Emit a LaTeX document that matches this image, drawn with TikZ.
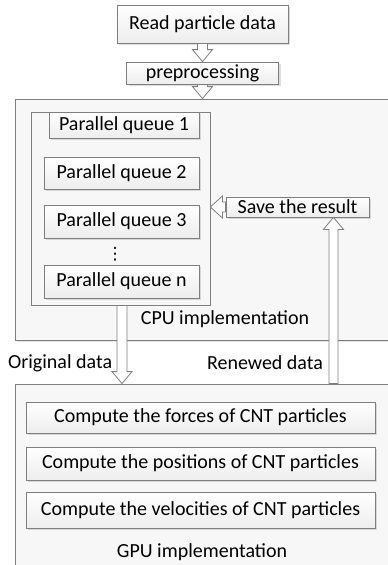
\documentclass[tikz,border=0pt]{standalone}
\usepackage{fontspec}
\setmainfont{Carlito}
\newfontfamily\symfont{DejaVu Sans}
\usetikzlibrary{calc,shadows}
\definecolor{bordergray}{HTML}{7F7F7F}
\definecolor{panelfill}{HTML}{F7F7F7}
\newcommand\hollowarrow[4]{% from, to, shaft half width, head half width
  \coordinate (hab) at ($(#2)!12pt!(#1)$);
  \draw[harrow] ($(#1)!#3!90:(#2)$) -- ($(hab)!#3!-90:(#1)$) -- ($(hab)!#4!-90:(#1)$) -- (#2)
     -- ($(hab)!#4!90:(#1)$) -- ($(hab)!#3!90:(#1)$) -- ($(#1)!#3!-90:(#2)$) -- cycle;}
\begin{document}
\begin{tikzpicture}[x=1pt,y=-1pt,
  txt/.style={font=\fontsize{20}{24}\selectfont, inner sep=0pt},
  box/.style={txt, draw=bordergray, line width=0.8pt, top color=white, bottom color=gray!14,
     drop shadow={shadow xshift=2pt, shadow yshift=-2pt, fill=gray!60, opacity=0.45}},
  panel/.style={draw=bordergray, line width=0.8pt, fill=panelfill,
     drop shadow={shadow xshift=2pt, shadow yshift=-2pt, fill=gray!60, opacity=0.35}},
  harrow/.style={draw=bordergray, line width=0.8pt, fill=white, line join=miter}]
\useasboundingbox (0,0) rectangle (388,565);

% panels
\node[panel, minimum width=375pt, minimum height=241pt, inner sep=0pt] (cpu) at (202.5,219.5) {};
\node[panel, minimum width=375pt, minimum height=190pt, inner sep=0pt] (gpu) at (202.5,479) {};
\node[draw=bordergray, line width=0.8pt, fill=panelfill, minimum width=179pt, minimum height=193pt, inner sep=0pt] (cont) at (120.5,208.5) {};

% top boxes
\node[box, minimum width=171pt, minimum height=38pt] (read) at (202.5,24) {Read particle data};
\node[box, minimum width=152pt, minimum height=22pt] (prep) at (202.5,73) {preprocessing};

% queues
\node[box, minimum width=150pt, minimum height=26pt] (q1) at (124,125) {Parallel queue 1};
\node[box, minimum width=155pt, minimum height=32pt] (q2) at (121.5,173) {Parallel queue 2};
\node[box, minimum width=155pt, minimum height=33pt] (q3) at (121.5,221.5) {Parallel queue 3};
\node[inner sep=0pt, font=\symfont\fontsize{17}{20}\selectfont] (dots) at (115,254.5) {⋮};
\node[box, minimum width=155pt, minimum height=33pt] (qn) at (121.5,281.5) {Parallel queue n};
\node[box, minimum width=143pt, minimum height=20pt] (save) at (297.5,207) {Save the result};
\node[txt] (cpulab) at (225,319) {CPU implementation};

% GPU boxes
\node[box, minimum width=349pt, minimum height=31pt] (f) at (200.5,417.5) {Compute the forces of CNT particles};
\node[box, minimum width=349pt, minimum height=33pt] (p) at (200.5,463.5) {Compute the positions of CNT particles};
\node[box, minimum width=349pt, minimum height=36pt] (v) at (200.5,510) {Compute the velocities of CNT particles};
\node[txt] (gpulab) at (202,552) {GPU implementation};

% labels
\node[txt, anchor=west] (orig) at (8,363) {Original data};
\node[txt] (ren) at (265,363) {Renewed data};

% arrows
\hollowarrow{read.south}{prep.north}{5pt}{10pt}
\coordinate (cputop) at (prep.south |- cpu.north);
\hollowarrow{prep.south}{cputop}{5pt}{10pt}
\coordinate (contr) at (cont.east |- save.west);
\hollowarrow{save.west}{contr}{5pt}{11pt}
\coordinate (dn1) at ($(cont.south)+(1.5,0)$);
\coordinate (dn2) at (dn1 |- gpu.north);
\hollowarrow{dn1}{dn2}{5pt}{10pt}
\coordinate (up2) at ($(save.south west)!0.75!(save.south east)$);
\coordinate (up1) at (up2 |- gpu.north);
\hollowarrow{up1}{up2}{4.5pt}{10pt}
\end{tikzpicture}
\end{document}
